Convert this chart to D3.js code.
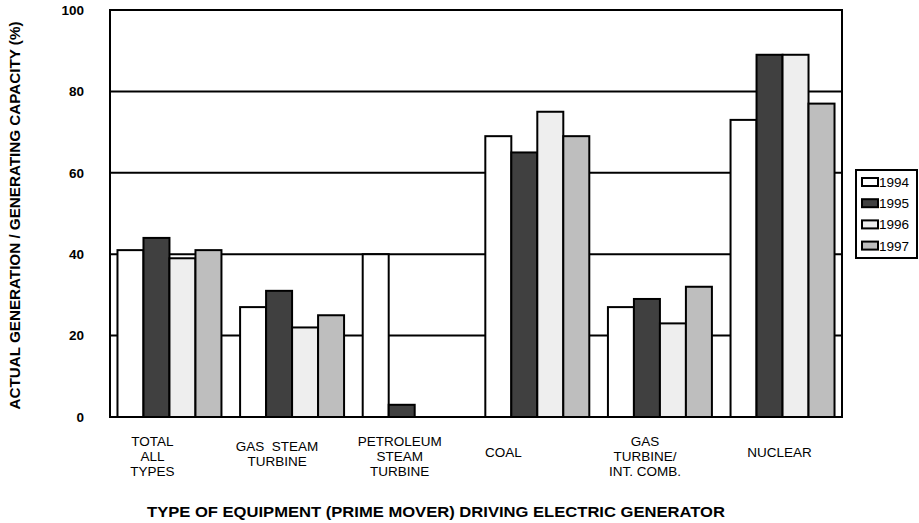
<!DOCTYPE html>
<html>
<head>
<meta charset="utf-8">
<script src="https://cdn.jsdelivr.net/npm/d3@7"></script>
<style>
  html, body { margin: 0; padding: 0; background: #fff; }
  svg { display: block; }
  text { font-family: "Liberation Sans", Arial, sans-serif; fill: #000; }
</style>
</head>
<body>
<svg id="chart" width="919" height="523"></svg>
<script>
// ---- data ----
const categories = ["TOTAL ALL TYPES", "GAS STEAM TURBINE", "PETROLEUM STEAM TURBINE", "COAL", "GAS TURBINE/ INT. COMB.", "NUCLEAR"];
const categoryLines = [
  ["TOTAL", "ALL", "TYPES"],
  ["GAS  STEAM", "TURBINE"],
  ["PETROLEUM", "STEAM", "TURBINE"],
  ["COAL"],
  ["GAS", "TURBINE/", "INT. COMB."],
  ["NUCLEAR"]
];
const years = ["1994", "1995", "1996", "1997"];
const values1994 = [41, 27, 40, 69, 27, 73];
const values1995 = [44, 31, 3, 65, 29, 89];
const values1996 = [39, 22, 0, 75, 23, 89];
const values1997 = [41, 25, 0, 69, 32, 77];
const yTicks = [0, 20, 40, 60, 80, 100];
const yTitle = "ACTUAL GENERATION / GENERATING CAPACITY (%)";
const xTitle = "TYPE OF EQUIPMENT (PRIME MOVER) DRIVING ELECTRIC GENERATOR";

// ---- layout / style ----
const seriesValues = [values1994, values1995, values1996, values1997];
const fills = ["#ffffff", "#404040", "#eeeeee", "#bebebe"];
const labelShift = [-17, -15, -15, -34, -15, -3];
const plot = { left: 110, right: 842, top: 10, bottom: 417 };

const svg = d3.select("#chart");

const x0 = d3.scaleBand().domain(categories).range([plot.left, plot.right])
  .paddingInner(0.152).paddingOuter(0.061);
const x1 = d3.scaleBand().domain(years).range([0, x0.bandwidth()]);
const y = d3.scaleLinear().domain([0, 100]).range([plot.bottom, plot.top]);

// gridlines
svg.append("g").selectAll("line").data(yTicks.filter(t => t > 0 && t < 100)).join("line")
  .attr("x1", plot.left).attr("x2", plot.right)
  .attr("y1", d => y(d)).attr("y2", d => y(d))
  .attr("stroke", "#000").attr("stroke-width", 2);

// bars
const groups = svg.append("g").selectAll("g").data(categories).join("g")
  .attr("transform", d => `translate(${x0(d)},0)`);
groups.selectAll("rect")
  .data((c, ci) => years.map((yr, si) => ({ yr, si, v: seriesValues[si][ci] })).filter(d => d.v > 0))
  .join("rect")
  .attr("x", d => x1(d.yr))
  .attr("width", x1.bandwidth())
  .attr("y", d => y(d.v))
  .attr("height", d => y(0) - y(d.v))
  .attr("fill", d => fills[d.si])
  .attr("stroke", "#000").attr("stroke-width", 2);

// frame
svg.append("rect")
  .attr("x", plot.left).attr("y", plot.top)
  .attr("width", plot.right - plot.left).attr("height", plot.bottom - plot.top)
  .attr("fill", "none").attr("stroke", "#000").attr("stroke-width", 2);

// y axis tick labels
const yAxis = d3.axisLeft(y).tickValues(yTicks).tickSize(0).tickPadding(26);
const yg = svg.append("g").attr("transform", `translate(${plot.left},0)`).call(yAxis);
yg.select(".domain").remove();
yg.selectAll("text")
  .style("font-family", '"Liberation Sans", Arial, sans-serif')
  .style("font-size", "13.5px").style("font-weight", "bold").attr("fill", "#000");

// y title
svg.append("text")
  .attr("transform", `translate(20,${(plot.top + plot.bottom) / 2 + 2}) rotate(-90)`)
  .attr("text-anchor", "middle")
  .attr("textLength", 388).attr("lengthAdjust", "spacingAndGlyphs")
  .style("font-size", "14px").style("font-weight", "bold")
  .text(yTitle);

// category labels
const catG = svg.append("g").selectAll("text").data(categories).join("text")
  .attr("text-anchor", "middle")
  .attr("xml:space", "preserve")
  .style("white-space", "pre")
  .style("font-size", "13.5px")
  .attr("x", (d, i) => x0(d) + x0.bandwidth() / 2 + labelShift[i])
  .attr("y", (d, i) => {
    const n = categoryLines[i].length;
    return n === 3 ? 446 : n === 2 ? 451 : 457;
  });
catG.selectAll("tspan").data((d, i) => categoryLines[i]).join("tspan")
  .attr("x", function () { return d3.select(this.parentNode).attr("x"); })
  .attr("dy", (d, i) => i === 0 ? 0 : 15)
  .text(d => d);

// x title
svg.append("text")
  .attr("x", 436).attr("y", 517)
  .attr("text-anchor", "middle")
  .attr("textLength", 578).attr("lengthAdjust", "spacingAndGlyphs")
  .style("font-size", "14px").style("font-weight", "bold")
  .text(xTitle);

// legend
const lg = svg.append("g");
lg.append("rect").attr("x", 856).attr("y", 170).attr("width", 61).attr("height", 88)
  .attr("fill", "#fff").attr("stroke", "#000").attr("stroke-width", 2);
const rows = lg.selectAll("g.row").data(years).join("g").attr("class", "row")
  .attr("transform", (d, i) => `translate(0,${182 + i * 21.2})`);
rows.append("rect").attr("x", 862).attr("y", -4).attr("width", 16).attr("height", 8)
  .attr("fill", (d, i) => fills[i]).attr("stroke", "#000").attr("stroke-width", 2);
rows.append("text").attr("x", 879).attr("y", 5)
  .style("font-size", "13.5px").text(d => d);
</script>
</body>
</html>
